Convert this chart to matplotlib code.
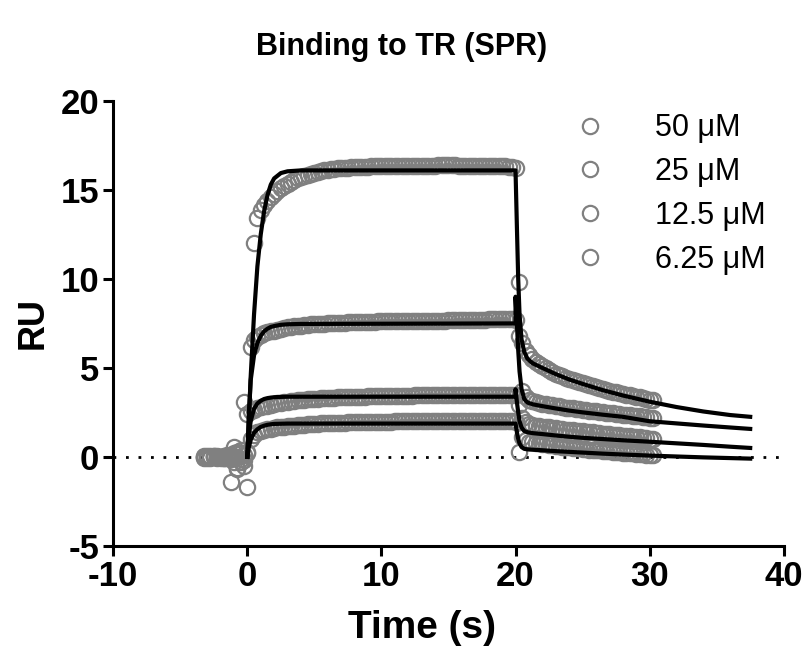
"""SPR sensorgram: binding to TR at four concentrations."""
import numpy as np
import matplotlib
matplotlib.use("Agg")
import matplotlib.pyplot as plt

plt.rcParams["font.family"] = ["Liberation Sans", "DejaVu Sans"]
plt.rcParams["axes.unicode_minus"] = False

# sampling grid of the instrument (0.25 s steps)
time = np.arange(-3.25, 30.26, 0.25)

labels = ["50 \u03bcM", "25 \u03bcM", "12.5 \u03bcM", "6.25 \u03bcM"]

nan = np.nan
ru_50 = [
    0.0, 0.05, -0.05, 0.0, 0.05, 0.0, -0.05,
    0.0, -1.4, -0.3, -0.6, 0.2, -0.2, -1.7, nan,
    12.0, 13.4, 13.9, 14.15, 14.4, 14.6, 14.8, 14.95,
    15.1, 15.25, 15.35, 15.45, 15.55, 15.65, 15.72, 15.8,
    15.86, 15.92, 15.98, 16.02, 16.06, 16.1, 16.13, 16.16,
    16.19, 16.21, 16.23, 16.25, 16.26, 16.27, 16.28, 16.29,
    16.3, 16.3, 16.31, 16.32, 16.32, 16.33, 16.33, 16.34,
    16.34, 16.35, 16.35, 16.35, 16.36, 16.36, 16.36, 16.36,
    16.36, 16.37, 16.37, 16.37, 16.37, 16.37, 16.37, 16.38,
    16.38, 16.38, 16.38, 16.38, 16.38, 16.37, 16.37, 16.37,
    16.37, 16.36, 16.36, 16.35, 16.35, 16.35, 16.34, 16.34,
    16.33, 16.33, 16.32, 16.32, 16.31, 16.3, 16.25, 9.8,
    6.4, 5.95, 5.7, 5.5, 5.35, 5.22, 5.1, 4.98,
    4.88, 4.78, 4.68, 4.6, 4.52, 4.45, 4.38, 4.32,
    4.26, 4.2, 4.14, 4.08, 4.03, 3.97, 3.92, 3.87,
    3.82, 3.77, 3.72, 3.67, 3.63, 3.58, 3.54, 3.5,
    3.46, 3.42, 3.38, 3.34, 3.3, 3.26, 3.22, 3.18,
]
ru_25 = [
    0.05, 0.0, 0.0, 0.05, -0.05, 0.0, 0.05,
    0.1, 0.0, 0.55, 0.3, -0.1, 0.1, 0.2, 6.2,
    6.55, 6.75, 6.85, 6.95, 7.0, 7.05, 7.1, 7.15,
    7.2, 7.23, 7.27, 7.3, 7.33, 7.36, 7.38, 7.4,
    7.42, 7.44, 7.45, 7.47, 7.48, 7.49, 7.5, 7.51,
    7.52, 7.53, 7.55, 7.55, 7.56, 7.57, 7.58, 7.58,
    7.59, 7.59, 7.6, 7.6, 7.6, 7.61, 7.61, 7.61,
    7.62, 7.62, 7.62, 7.62, 7.63, 7.63, 7.63, 7.63,
    7.64, 7.64, 7.64, 7.65, 7.65, 7.65, 7.65, 7.66,
    7.66, 7.66, 7.67, 7.67, 7.67, 7.68, 7.68, 7.68,
    7.69, 7.69, 7.7, 7.7, 7.71, 7.71, 7.72, 7.72,
    7.73, 7.73, 7.74, 7.74, 7.75, 7.75, 7.7, 6.8,
    3.7, 3.35, 3.2, 3.12, 3.07, 3.03, 2.99, 2.95,
    2.92, 2.89, 2.86, 2.83, 2.8, 2.77, 2.75, 2.72,
    2.7, 2.67, 2.65, 2.62, 2.6, 2.57, 2.55, 2.53,
    2.5, 2.48, 2.46, 2.44, 2.41, 2.39, 2.37, 2.35,
    2.33, 2.31, 2.29, 2.27, 2.25, 2.23, 2.21, 2.19,
]
ru_12 = [
    -0.05, 0.0, 0.05, 0.0, 0.0, -0.05, 0.0,
    -0.05, 0.1, 0.0, -0.7, -0.3, 3.1, 2.4, 2.55,
    2.65, 2.72, 2.78, 2.83, 2.88, 2.92, 2.96, 3.0,
    3.03, 3.06, 3.09, 3.12, 3.14, 3.17, 3.19, 3.21,
    3.23, 3.25, 3.26, 3.27, 3.28, 3.29, 3.31, 3.32,
    3.33, 3.34, 3.35, 3.35, 3.36, 3.37, 3.38, 3.38,
    3.39, 3.39, 3.4, 3.4, 3.41, 3.41, 3.42, 3.42,
    3.42, 3.43, 3.43, 3.43, 3.44, 3.44, 3.44, 3.44,
    3.45, 3.45, 3.45, 3.45, 3.46, 3.46, 3.46, 3.46,
    3.46, 3.47, 3.47, 3.47, 3.47, 3.47, 3.48, 3.48,
    3.48, 3.48, 3.49, 3.49, 3.49, 3.49, 3.5, 3.5,
    3.5, 3.5, 3.5, 3.5, 3.5, 3.5, 3.45, 2.9,
    2.2, 1.95, 1.85, 1.8, 1.76, 1.73, 1.7, 1.67,
    1.65, 1.62, 1.6, 1.58, 1.55, 1.53, 1.51, 1.49,
    1.47, 1.45, 1.43, 1.41, 1.39, 1.37, 1.35, 1.33,
    1.31, 1.29, 1.27, 1.25, 1.23, 1.21, 1.19, 1.17,
    1.15, 1.13, 1.11, 1.09, 1.07, 1.05, 1.03, 1.01,
]
ru_6 = [
    0.0, -0.05, 0.0, 0.05, 0.0, 0.0, -0.05,
    0.05, -0.1, 0.2, 0.0, 0.4, -0.5, 0.3, 1.0,
    1.25, 1.38, 1.45, 1.5, 1.55, 1.58, 1.62, 1.65,
    1.68, 1.7, 1.72, 1.74, 1.76, 1.78, 1.8, 1.81,
    1.82, 1.84, 1.86, 1.87, 1.88, 1.89, 1.9, 1.9,
    1.91, 1.92, 1.93, 1.93, 1.94, 1.94, 1.95, 1.95,
    1.96, 1.96, 1.96, 1.97, 1.97, 1.97, 1.98, 1.98,
    1.98, 1.98, 1.99, 1.99, 1.99, 1.99, 2.0, 2.0,
    2.0, 2.0, 2.0, 2.0, 2.0, 2.01, 2.01, 2.01,
    2.01, 2.01, 2.01, 2.02, 2.02, 2.02, 2.02, 2.02,
    2.02, 2.02, 2.02, 2.02, 2.02, 2.02, 2.02, 2.01,
    2.01, 2.01, 2.01, 2.01, 2.0, 2.0, 1.95, 0.3,
    1.1, 0.95, 0.85, 0.81, 0.78, 0.75, 0.72, 0.7,
    0.67, 0.65, 0.62, 0.6, 0.58, 0.55, 0.53, 0.51,
    0.49, 0.47, 0.45, 0.43, 0.41, 0.39, 0.38, 0.36,
    0.34, 0.32, 0.31, 0.29, 0.27, 0.26, 0.24, 0.22,
    0.21, 0.19, 0.18, 0.16, 0.15, 0.13, 0.12, 0.1,
]

# fitted curves, association phase
fit_time_on = [0, 0.1, 0.25, 0.5, 0.75, 1.0, 1.25, 1.5, 1.75, 2.0, 2.5, 3.0, 4.0, 20.0]
fit_on_50 = [0, 1.7, 4.5, 8.0, 10.7, 12.5, 13.8, 14.7, 15.3, 15.65, 15.95, 16.05, 16.1, 16.1]
fit_on_25 = [0, 2.2, 4.3, 5.7, 6.4, 6.8, 7.05, 7.2, 7.3, 7.35, 7.42, 7.45, 7.47, 7.5]
fit_on_12 = [0, 1.1, 2.0, 2.7, 3.0, 3.15, 3.25, 3.3, 3.33, 3.35, 3.37, 3.38, 3.38, 3.38]
fit_on_6 = [0, 0.5, 0.95, 1.35, 1.55, 1.68, 1.75, 1.8, 1.83, 1.85, 1.86, 1.87, 1.87, 1.87]

# fitted curves, dissociation phase
fit_time_off = [20.0, 20.1, 20.2, 20.3, 20.45, 20.65, 20.9, 21.3, 22, 23, 24, 25,
                26.5, 28, 30, 32, 34, 36, 37.5]
fit_off_50 = [16.1, 13.0, 10.0, 8.0, 6.6, 5.9, 5.5, 5.25, 5.0, 4.65, 4.35, 4.1,
              3.75, 3.45, 3.1, 2.8, 2.55, 2.35, 2.25]
fit_off_25 = [9.0, 7.5, 6.0, 4.8, 3.8, 3.25, 3.05, 2.95, 2.85, 2.72, 2.6, 2.5,
              2.37, 2.25, 2.0, 1.88, 1.76, 1.65, 1.57]
fit_off_12 = [3.8, 3.1, 2.5, 2.0, 1.65, 1.45, 1.38, 1.33, 1.28, 1.2, 1.13, 1.07,
              1.0, 0.93, 0.85, 0.76, 0.67, 0.57, 0.5]
fit_off_6 = [1.87, 1.4, 1.0, 0.75, 0.55, 0.45, 0.42, 0.4, 0.37, 0.32, 0.28, 0.24,
             0.18, 0.13, 0.07, 0.02, -0.03, -0.07, -0.1]

data = [ru_50, ru_25, ru_12, ru_6]
fits_on = [fit_on_50, fit_on_25, fit_on_12, fit_on_6]
fits_off = [fit_off_50, fit_off_25, fit_off_12, fit_off_6]

fig = plt.figure(figsize=(8.03, 6.56), dpi=100)
ax = fig.add_axes([0.141, 0.168, 0.835, 0.678])

ax.axhline(0, color="black", lw=2, linestyle=(0, (1, 3.5)), zorder=1)

for values, label in zip(data, labels):
    ax.plot(time, values, linestyle="none", marker="o", markersize=11,
            markerfacecolor="none", markeredgecolor="#808080",
            markeredgewidth=1.6, label=label, zorder=2)

for on, off in zip(fits_on, fits_off):
    ax.plot(fit_time_on + fit_time_off, on + off, color="black", lw=3.0,
            solid_joinstyle="round", zorder=3)

ax.set_xlim(-10, 40)
ax.set_ylim(-5, 20)
ax.set_xticks([-10, 0, 10, 20, 30, 40])
ax.set_yticks([-5, 0, 5, 10, 15, 20])
for side in ["top", "right"]:
    ax.spines[side].set_visible(False)
for side in ["left", "bottom"]:
    ax.spines[side].set_linewidth(2.2)
ax.tick_params(width=2.2, length=7, labelsize=25, pad=3)
for lab in ax.get_xticklabels() + ax.get_yticklabels():
    lab.set_fontweight("bold")

ax.set_xlabel("Time (s)", fontsize=28, fontweight="bold")
ax.xaxis.set_label_coords(0.46, -0.145)
ax.set_ylabel("RU", fontsize=26, fontweight="bold", labelpad=7)
fig.text(0.5, 0.928, "Binding to TR (SPR)", ha="center", va="center",
         fontsize=22, fontweight="bold")

ax.legend(loc="upper left", bbox_to_anchor=(559 / 803, 1 - 98 / 656),
          bbox_transform=fig.transFigure, frameon=False, borderpad=0,
          fontsize=22, markerscale=1.0, handletextpad=1.63, labelspacing=0.45,
          handlelength=1.0)

fig.savefig("out.png", dpi=100)
